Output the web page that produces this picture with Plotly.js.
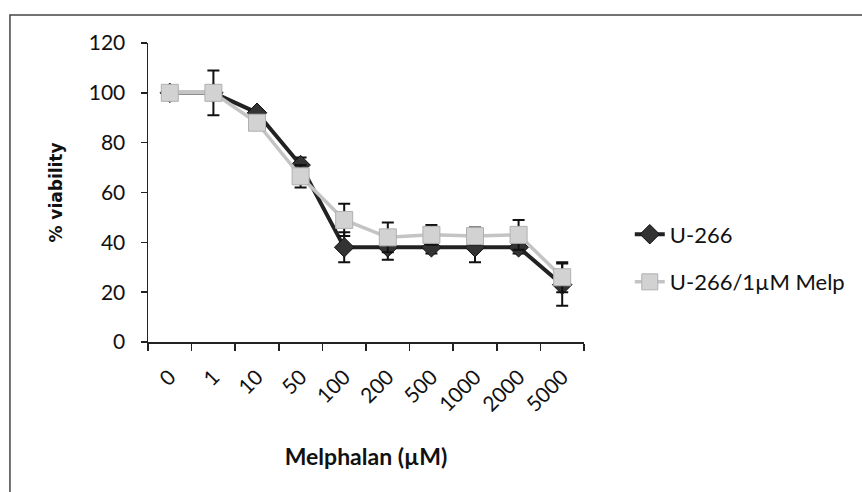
<!DOCTYPE html>
<html>
<head>
<meta charset="utf-8">
<script src="https://cdn.plot.ly/plotly-3.0.1.min.js"></script>
<style>
  html, body { margin: 0; padding: 0; background: #fff; }
  #chart { width: 862px; height: 492px; }
</style>
</head>
<body>
<div id="chart"></div>
<script>
// Data
const categories = ["0", "1", "10", "50", "100", "200", "500", "1000", "2000", "5000"];
const u266 = [100, 100, 92, 71, 38, 38, 38, 38, 38, 23];
const u266Err = [0, 9, 1, 3, 6, 5, 2.5, 6, 2.5, 8.5];
const u266Melp = [100, 100, 88, 66.5, 49, 42, 43, 42.5, 43, 26];
const u266MelpErr = [0, 0, 1, 4.5, 6.5, 6, 4, 3.5, 6, 6];
const seriesNames = ["U-266", "U-266/1\u00b5M Melp"];

const tickFont = { family: "Lato, 'Open Sans', sans-serif", size: 21, color: "#111" };

const traces = [
  {
    x: categories, y: u266, name: seriesNames[0], type: "scatter", mode: "lines+markers",
    legendgroup: "a",
    line: { color: "#222", width: 4 },
    marker: { symbol: "diamond", size: 15, color: "#333", line: { color: "#111", width: 1 } },
    error_y: { type: "data", array: u266Err, visible: true, color: "#111", thickness: 2, width: 6 }
  },
  {
    x: categories, y: u266Melp, name: seriesNames[1], type: "scatter", mode: "lines+markers",
    legendgroup: "b",
    line: { color: "#c4c4c4", width: 3.5 },
    marker: { symbol: "square", size: 17, color: "#d2d2d2", line: { color: "#b0b0b0", width: 1 } },
    error_y: { type: "data", array: u266MelpErr, visible: true, color: "#111", thickness: 2, width: 6 }
  }
];

const layout = {
  width: 862, height: 492,
  margin: { l: 148, r: 275, t: 43, b: 150 },
  paper_bgcolor: "#fff", plot_bgcolor: "#fff",
  showlegend: true,
  legend: {
    x: 1.105, y: 0.43, xanchor: "left", yanchor: "top",
    font: { family: "Lato, 'Open Sans', sans-serif", size: 22, color: "#111" },
    traceorder: "grouped", tracegroupgap: 16, bgcolor: "rgba(0,0,0,0)"
  },
  xaxis: {
    type: "category", categoryorder: "array", categoryarray: categories,
    range: [-0.5, 9.5], autorange: false,
    showline: true, linecolor: "#222", linewidth: 1.5,
    ticks: "outside", ticklen: 7, tickcolor: "#222", tickwidth: 1.5,
    tickson: "boundaries",
    ticklabelstandoff: 13,
    showgrid: false, zeroline: false,
    tickangle: -45, tickfont: tickFont,
    title: { text: "Melphalan (\u00b5M)", font: { family: "Lato, 'Open Sans', sans-serif", size: 23, color: "#111", weight: "bold" }, standoff: 34 }
  },
  yaxis: {
    range: [0, 120], autorange: false, dtick: 20, tick0: 0,
    showline: true, linecolor: "#222", linewidth: 1.5,
    ticks: "outside", ticklen: 6, tickcolor: "#222", tickwidth: 1.5,
    ticklabelstandoff: 11,
    showgrid: false, zeroline: false,
    tickfont: tickFont,
    title: { text: "% viability", font: { family: "'DejaVu Sans', sans-serif", size: 17, color: "#111", weight: "bold" }, standoff: 22 }
  },
  shapes: [
    { type: "rect", xref: "paper", yref: "paper",
      x0: (9 - 148) / 439, x1: (870 - 148) / 439,
      y0: (342 - 500) / 299, y1: (342 - 15) / 299,
      line: { color: "#444", width: 1.5 }, fillcolor: "rgba(0,0,0,0)", layer: "below" }
  ]
};

Plotly.newPlot("chart", traces, layout, { displayModeBar: false, staticPlot: true });
</script>
</body>
</html>
